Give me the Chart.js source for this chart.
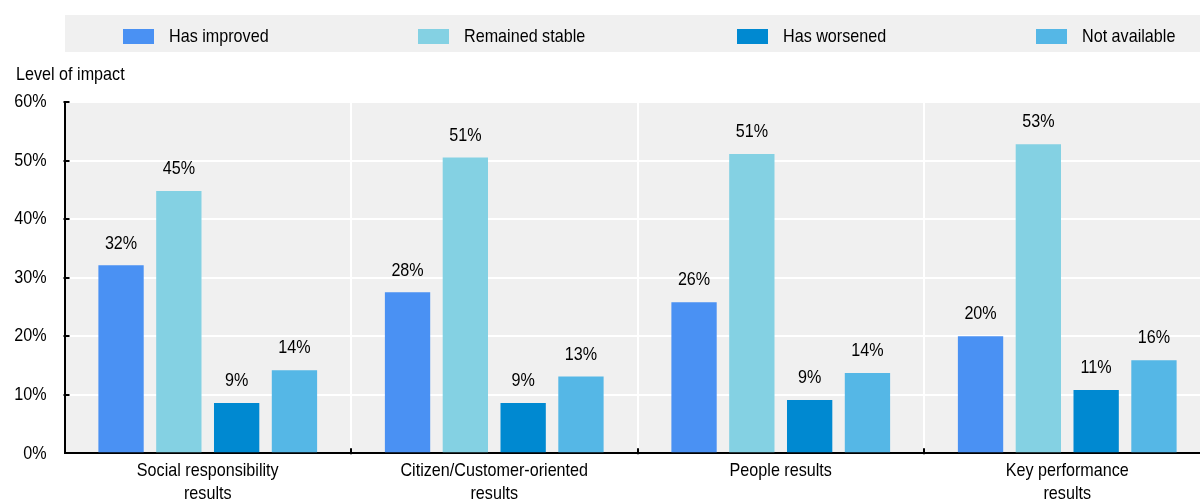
<!DOCTYPE html>
<html>
<head>
<meta charset="utf-8">
<script src="https://cdn.jsdelivr.net/npm/chart.js@4/dist/chart.umd.min.js"></script>
<style>
  html, body { margin: 0; padding: 0; background: #fff; overflow: hidden; width: 1200px; height: 503px; }
  #wrap { position: relative; width: 1212px; height: 503px; }
</style>
</head>
<body>
<div id="wrap"><canvas id="c" width="1212" height="503"></canvas></div>
<script>
// Categories and series values (percent of respondents)
const categories = [
  ["Social responsibility", "results"],
  ["Citizen/Customer-oriented", "results"],
  "People results",
  ["Key performance", "results"]
];
const seriesNames = ["Has improved", "Remained stable", "Has worsened", "Not available"];
const hasImproved    = [32.1, 27.5, 25.8, 20.0];
const remainedStable = [44.8, 50.5, 51.1, 52.8];
const hasWorsened    = [8.6, 8.6, 9.1, 10.8];
const notAvailable   = [14.2, 13.1, 13.7, 15.9];
const yTickValues = [0, 10, 20, 30, 40, 50, 60];
const yAxisTitle = "Level of impact";

const seriesData = [hasImproved, remainedStable, hasWorsened, notAvailable];
const seriesColors = ["#4a91f3", "#84d1e3", "#0089d1", "#55b7e6"];
const FONT_FAMILY = '"Liberation Sans", Arial, sans-serif';
const FONT_SIZE = 19;
const NARROW = 0.85;          // horizontal squeeze giving a narrow face
const PANEL = "#f0f0f0";

// legend item left edges (px)
const legendX = [123, 418, 737, 1036];

// draws condensed text anchored at (x, y)
function narrowText(ctx, text, x, y, align) {
  ctx.save();
  ctx.translate(x, y);
  ctx.scale(NARROW, 1);
  ctx.font = `${FONT_SIZE}px ${FONT_FAMILY}`;
  ctx.fillStyle = "#000";
  ctx.textAlign = align;
  ctx.textBaseline = "middle";
  ctx.fillText(text, 0, 0);
  ctx.restore();
}

const decorations = {
  id: "decorations",
  beforeDraw(chart) {
    const { ctx, chartArea: a } = chart;
    ctx.save();
    ctx.fillStyle = PANEL;
    ctx.fillRect(65, 15, chart.width - 65, 37);          // legend band
    ctx.fillRect(a.left, a.top, a.right - a.left, a.bottom - a.top); // plot panel
    ctx.restore();
  },
  afterDatasetsDraw(chart) {
    const { ctx } = chart;
    chart.data.datasets.forEach((ds, di) => {
      chart.getDatasetMeta(di).data.forEach((bar, i) => {
        narrowText(ctx, Math.round(ds.data[i]) + "%", bar.x, bar.y - 22, "center");
      });
    });
  },
  afterDraw(chart) {
    const { ctx, chartArea: a, scales } = chart;
    ctx.save();
    // inner tick marks
    ctx.strokeStyle = "#000";
    ctx.lineWidth = 2;
    ctx.beginPath();
    yTickValues.forEach(v => {
      if (v === 0) return;
      const y = Math.round(scales.y.getPixelForValue(v));
      ctx.moveTo(a.left - 1, y);
      ctx.lineTo(a.left + 5, y);
    });
    const n = chart.data.labels.length;
    for (let i = 1; i < n; i++) {
      const x = Math.round((scales.x.getPixelForTick(i - 1) + scales.x.getPixelForTick(i)) / 2);
      ctx.moveTo(x, a.bottom + 1);
      ctx.lineTo(x, a.bottom - 5);
    }
    ctx.stroke();
    ctx.restore();

    // y tick labels
    yTickValues.forEach(v => {
      narrowText(ctx, v + "%", a.left - 18, scales.y.getPixelForValue(v), "right");
    });
    // category labels
    chart.data.labels.forEach((lab, i) => {
      const lines = Array.isArray(lab) ? lab : [lab];
      const x = scales.x.getPixelForTick(i);
      lines.forEach((line, k) => narrowText(ctx, line, x, a.bottom + 17 + k * 23, "center"));
    });

    // axis title
    narrowText(ctx, yAxisTitle, 16, 75, "left");

    // legend
    seriesNames.forEach((name, i) => {
      ctx.fillStyle = seriesColors[i];
      ctx.fillRect(legendX[i], 29, 31, 15);
      narrowText(ctx, name, legendX[i] + 46, 37, "left");
    });
  }
};

new Chart(document.getElementById("c"), {
  type: "bar",
  data: {
    labels: categories,
    datasets: seriesNames.map((name, i) => ({
      label: name,
      data: seriesData[i],
      backgroundColor: seriesColors[i],
      borderWidth: 0,
      categoryPercentage: 0.807,
      barPercentage: 0.784
    }))
  },
  options: {
    responsive: false,
    animation: false,
    devicePixelRatio: 1,
    layout: { padding: { top: 102, left: 0, right: 1.5, bottom: 0 } },
    plugins: { legend: { display: false }, tooltip: { enabled: false }, title: { display: false } },
    scales: {
      x: {
        grid: { color: "#fff", lineWidth: 2, offset: true, drawTicks: false },
        border: { display: true, color: "#000", width: 2 },
        ticks: { display: false },
        afterFit(s) { s.height = 49.7; }
      },
      y: {
        min: 0, max: 60,
        afterBuildTicks(s) { s.ticks = yTickValues.map(v => ({ value: v })); },
        grid: { color: "#fff", lineWidth: 2, drawTicks: false },
        border: { display: true, color: "#000", width: 2 },
        ticks: { display: false },
        afterFit(s) { s.width = 64.5; }
      }
    }
  },
  plugins: [decorations]
});
</script>
</body>
</html>
